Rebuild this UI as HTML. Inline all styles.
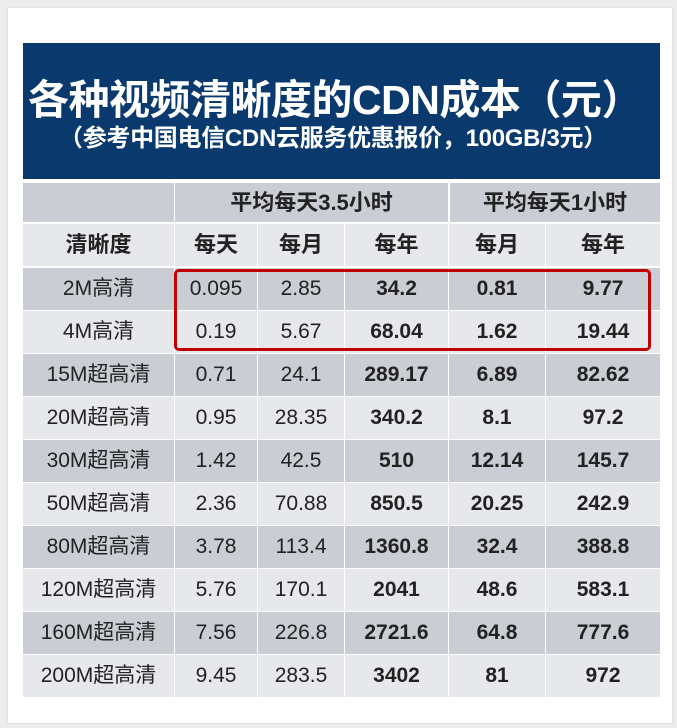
<!DOCTYPE html>
<html><head><meta charset="utf-8"><style>
html,body{margin:0;padding:0;}
body{width:677px;height:728px;background:#ececec;position:relative;overflow:hidden;font-family:"Liberation Sans","Noto Sans CJK SC",sans-serif;}
.card{position:absolute;left:8px;top:8px;width:664px;height:715px;background:#fff;box-shadow:0 0 2px #ccc;}
.banner{position:absolute;left:23px;top:43px;width:637px;height:136px;background:#0a3a6d;color:#fff;}
.t1{position:absolute;left:5px;top:34px;font-size:41px;line-height:46px;font-weight:bold;white-space:nowrap;letter-spacing:-0.5px;}
.t2{position:absolute;left:36px;top:82px;font-size:24px;line-height:28px;font-weight:bold;white-space:nowrap;letter-spacing:-0.3px;}
.c{position:absolute;display:flex;align-items:center;justify-content:center;font-size:21px;line-height:22px;color:#222;box-sizing:border-box;white-space:nowrap;}
.c span{display:block;line-height:22px;height:22px;}
.d{background:#cbcdd5;}.l{background:#e7e8ec;}
.b{font-weight:bold;}
.h{font-size:22px;}
.red{position:absolute;left:174px;top:269px;width:477px;height:82px;border:3px solid #c00000;border-radius:5px;box-sizing:border-box;}
</style></head><body>
<div class="card"></div>
<div class="banner"><div class="t1">各种视频清晰度的CDN成本（元）</div><div class="t2">（参考中国电信CDN云服务优惠报价，100GB/3元）</div></div>
<div id="t"></div>
<div class="red"></div>
<script>
var cols=[23,175,258,345,449,546,660];
var h='';
function cell(x1,x2,y1,y2,cls,txt){h+='<div class="c '+cls+'" style="left:'+x1+'px;top:'+y1+'px;width:'+(x2-x1)+'px;height:'+(y2-y1)+'px"><span>'+txt+'</span></div>';}
cell(23,174,183,222,'d','');
cell(175,448,183,222,'d b h','平均每天3.5小时');
cell(450,660,183,222,'d b h','平均每天1小时');
var hd=['清晰度','每天','每月','每年','每月','每年'];
for(var i=0;i<6;i++)cell(cols[i],cols[i+1]-(i<5?1:0),224,266,'l b h',hd[i]);
var rows=[['2M高清','0.095','2.85','34.2','0.81','9.77'],['4M高清','0.19','5.67','68.04','1.62','19.44'],['15M超高清','0.71','24.1','289.17','6.89','82.62'],['20M超高清','0.95','28.35','340.2','8.1','97.2'],['30M超高清','1.42','42.5','510','12.14','145.7'],['50M超高清','2.36','70.88','850.5','20.25','242.9'],['80M超高清','3.78','113.4','1360.8','32.4','388.8'],['120M超高清','5.76','170.1','2041','48.6','583.1'],['160M超高清','7.56','226.8','2721.6','64.8','777.6'],['200M超高清','9.45','283.5','3402','81','972']];
for(var r=0;r<10;r++){var y1=268+r*43,y2=y1+42;if(r==9)y2=697;
for(var i=0;i<6;i++){cell(cols[i],cols[i+1]-(i<5?1:0),y1,y2,(r%2?'l':'d')+(i>=3?' b':''),rows[r][i]);}}
document.getElementById('t').innerHTML=h;
</script>
</body></html>
